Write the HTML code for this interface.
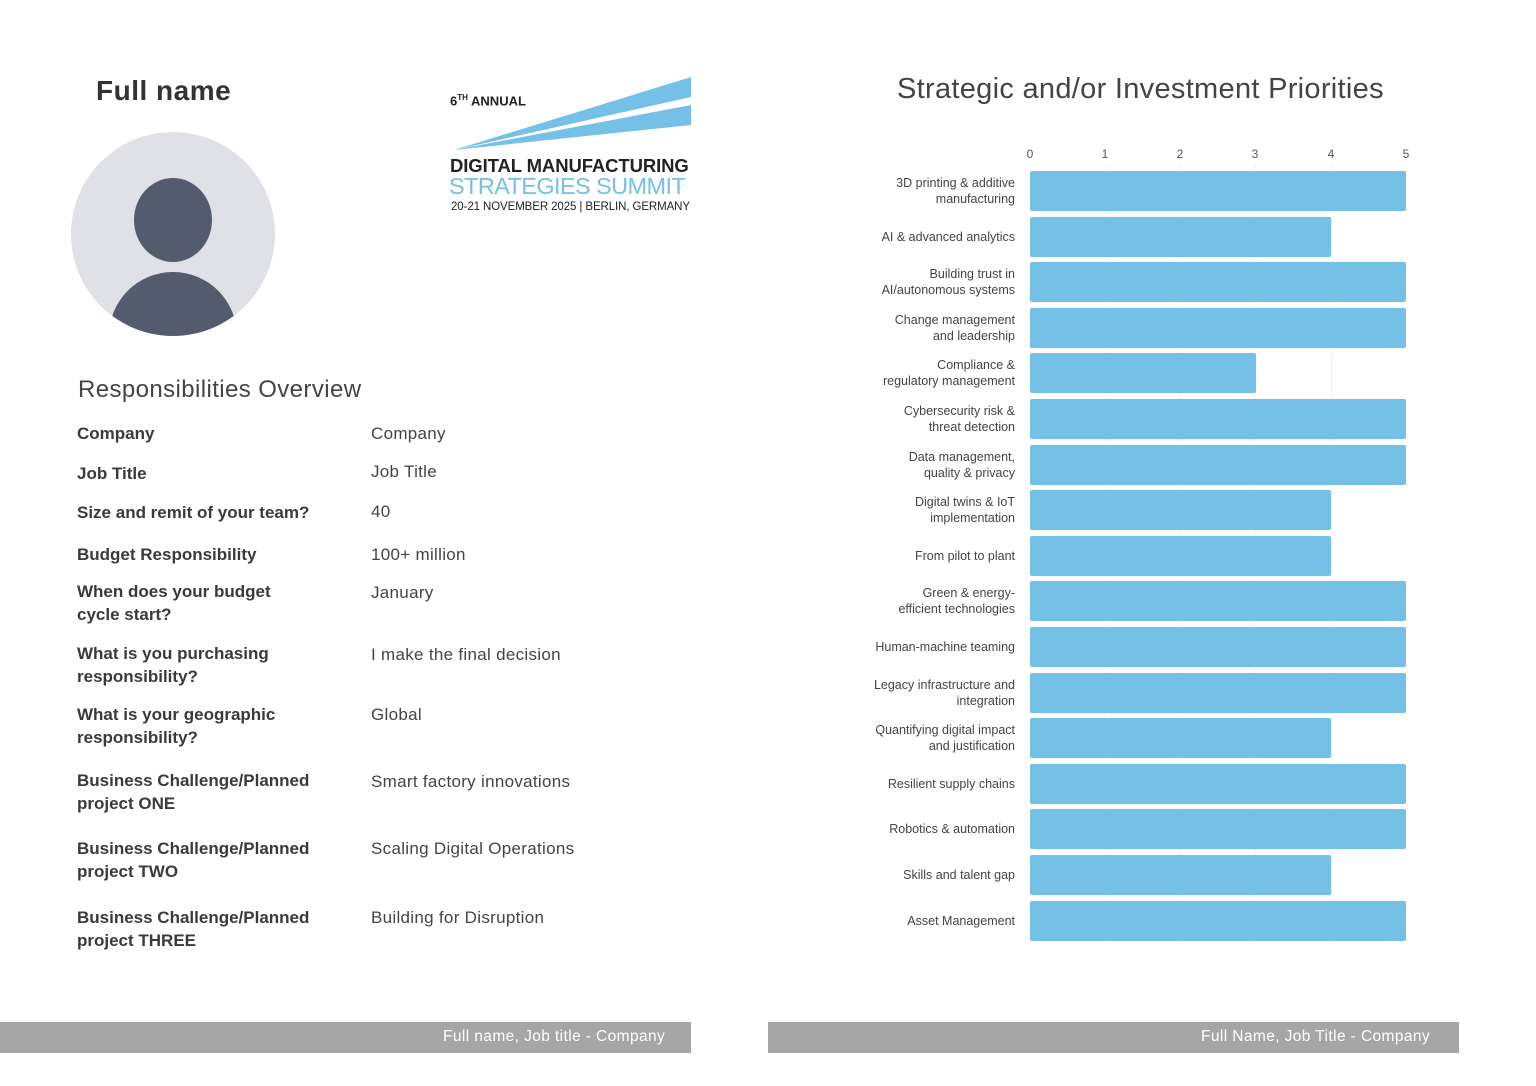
<!DOCTYPE html>
<html><head><meta charset="utf-8"><style>
body{margin:0;width:1536px;height:1086px;background:#fff;position:relative;overflow:hidden;font-family:"Liberation Sans",sans-serif;color:#3a3a3a}
.a{position:absolute;white-space:nowrap}
.lb{font-weight:bold;font-size:17px;line-height:23px;color:#3a3a3a}
.v{font-size:17px;color:#444;letter-spacing:0.3px}
.yl{position:absolute;right:521px;text-align:right;font-size:12.5px;line-height:16px;color:#444;transform:translateY(-50%)}
.bar{position:absolute;left:1030px;height:40px;background:#74c0e6;border-radius:2px}
.tk{position:absolute;top:147px;font-size:12px;color:#555;transform:translateX(-50%)}
.grid{position:absolute;top:165px;height:780px;width:1px;background:#f2f2f2}
</style></head><body>
<div class="a" style="left:96px;top:75px;font-size:28px;font-weight:bold;color:#333;letter-spacing:0.5px">Full name</div>
<div class="a" style="left:71px;top:132px;width:204px;height:204px;border-radius:50%;background:#dfe1e6;overflow:hidden">
<div style="position:absolute;left:63px;top:46px;width:78px;height:84px;border-radius:50%;background:#545b6d"></div>
<div style="position:absolute;left:38px;top:140px;width:128px;height:120px;border-radius:64px 64px 0 0;background:#545b6d"></div>
</div>
<svg class="a" style="left:440px;top:70px" width="260" height="150">
<polygon points="14,80 251,7 251,27" fill="#74c0e6"/>
<polygon points="14,80 251,35 251,55" fill="#74c0e6"/>
</svg>
<div class="a" style="left:450px;top:93px;font-size:13px;font-weight:bold;color:#222">6<sup style="font-size:8px">TH</sup> ANNUAL</div>
<div class="a" style="left:450px;top:155px;font-size:18.5px;font-weight:bold;color:#222;letter-spacing:-0.1px">DIGITAL MANUFACTURING</div>
<div class="a" style="left:449px;top:173px;font-size:23.5px;color:#74c0e6;letter-spacing:-0.6px">STRATEGIES SUMMIT</div>
<div class="a" style="left:451px;top:201px;font-size:11.5px;color:#222;letter-spacing:-0.1px">20-21 NOVEMBER 2025 | BERLIN, GERMANY</div>
<div class="a" style="left:78px;top:376px;font-size:24px;color:#444;letter-spacing:0.4px">Responsibilities Overview</div>
<div class="a lb" style="left:77px;top:422px">Company</div><div class="a v" style="left:371px;top:424px">Company</div>
<div class="a lb" style="left:77px;top:462px">Job Title</div><div class="a v" style="left:371px;top:462px">Job Title</div>
<div class="a lb" style="left:77px;top:501px">Size and remit of your team?</div><div class="a v" style="left:371px;top:502px">40</div>
<div class="a lb" style="left:77px;top:543px">Budget Responsibility</div><div class="a v" style="left:371px;top:545px">100+ million</div>
<div class="a lb" style="left:77px;top:580px">When does your budget<br>cycle start?</div><div class="a v" style="left:371px;top:583px">January</div>
<div class="a lb" style="left:77px;top:642px">What is you purchasing<br>responsibility?</div><div class="a v" style="left:371px;top:645px">I make the final decision</div>
<div class="a lb" style="left:77px;top:703px">What is your geographic<br>responsibility?</div><div class="a v" style="left:371px;top:705px">Global</div>
<div class="a lb" style="left:77px;top:769px">Business Challenge/Planned<br>project ONE</div><div class="a v" style="left:371px;top:772px">Smart factory innovations</div>
<div class="a lb" style="left:77px;top:837px">Business Challenge/Planned<br>project TWO</div><div class="a v" style="left:371px;top:839px">Scaling Digital Operations</div>
<div class="a lb" style="left:77px;top:906px">Business Challenge/Planned<br>project THREE</div><div class="a v" style="left:371px;top:908px">Building for Disruption</div>
<div class="a" style="left:0;top:1022px;width:691px;height:31px;background:#a6a6a6"></div>
<div class="a" style="left:443px;top:1028px;font-size:15.5px;color:#fff;letter-spacing:0.4px">Full name, Job title - Company</div>
<div class="a" style="left:768px;top:1022px;width:691px;height:31px;background:#a6a6a6"></div>
<div class="a" style="left:1201px;top:1028px;font-size:15.5px;color:#fff;letter-spacing:0.4px">Full Name, Job Title - Company</div>
<div class="a" style="left:897px;top:73px;font-size:29px;color:#444;letter-spacing:0.3px">Strategic and/or Investment Priorities</div>
<div class="grid" style="left:1105px"></div><div class="grid" style="left:1180px"></div><div class="grid" style="left:1255px"></div><div class="grid" style="left:1331px"></div>
<div class="tk" style="left:1030px">0</div><div class="tk" style="left:1105px">1</div><div class="tk" style="left:1180px">2</div><div class="tk" style="left:1255px">3</div><div class="tk" style="left:1331px">4</div><div class="tk" style="left:1406px">5</div>
<div id="c"></div>
<script>
var d=[["3D printing &amp; additive<br>manufacturing",5],["AI &amp; advanced analytics",4],["Building trust in<br>AI/autonomous systems",5],["Change management<br>and leadership",5],["Compliance &amp;<br>regulatory management",3],["Cybersecurity risk &amp;<br>threat detection",5],["Data management,<br>quality &amp; privacy",5],["Digital twins &amp; IoT<br>implementation",4],["From pilot to plant",4],["Green &amp; energy-<br>efficient technologies",5],["Human-machine teaming",5],["Legacy infrastructure and<br>integration",5],["Quantifying digital impact<br>and justification",4],["Resilient supply chains",5],["Robotics &amp; automation",5],["Skills and talent gap",4],["Asset Management",5]];
var h="";d.forEach(function(e,i){var y=171+i*45.6;h+='<div class="bar" style="top:'+y+'px;width:'+(e[1]*75.2)+'px"></div><div class="yl" style="top:'+(y+20)+'px">'+e[0]+'</div>';});
document.getElementById("c").innerHTML=h;
</script>
</body></html>
